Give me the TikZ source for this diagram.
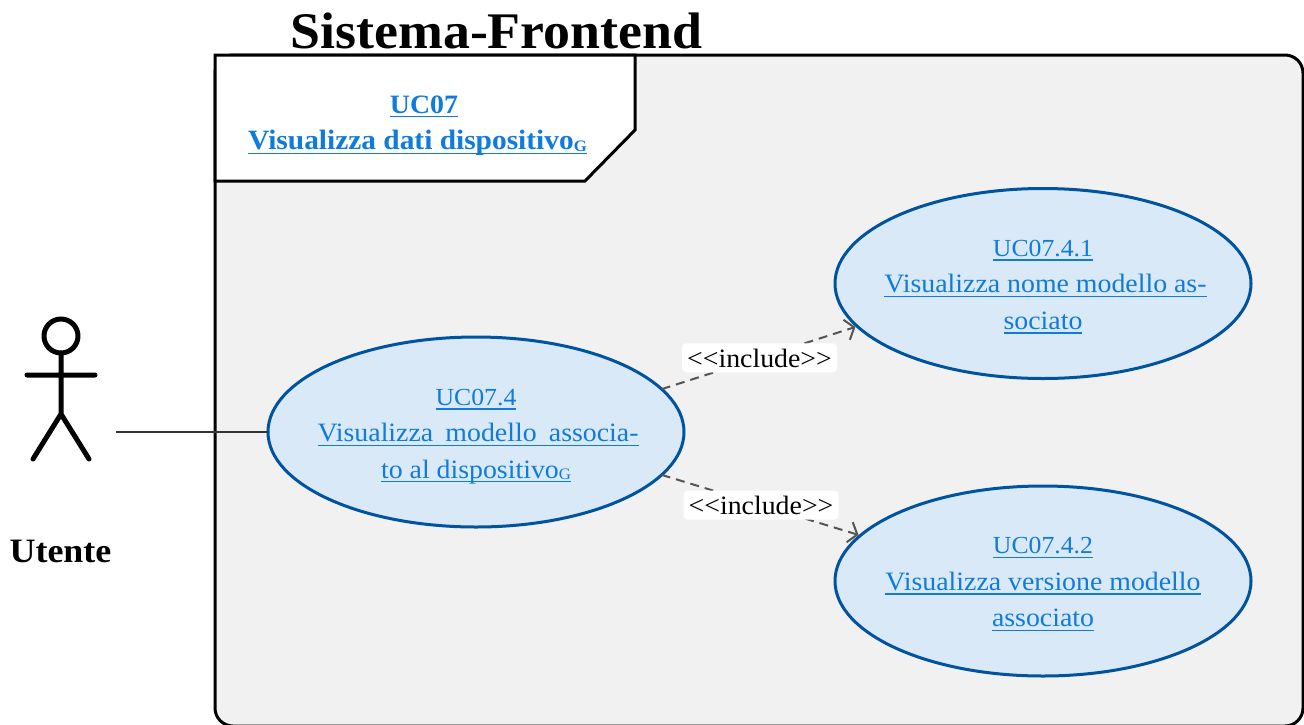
\documentclass[tikz,border=0pt]{standalone}
\usepackage{fontspec}
\setmainfont[FakeStretch=1.05]{Liberation Serif}
\usetikzlibrary{shapes.geometric,arrows.meta}
\definecolor{linkblue}{HTML}{0F7BDD}
\definecolor{ucblue}{HTML}{00539F}
\definecolor{ucfill}{HTML}{D9E9F8}
\definecolor{sysfill}{HTML}{F1F1F1}
\definecolor{dep}{HTML}{555555}
\newcommand\ulk[1]{\setbox0=\hbox{#1}\leavevmode\copy0\kern-\wd0\vrule width\wd0 height -3pt depth 4.3pt\relax}
\newcommand\gsub{\raisebox{-1.8pt}{\fontsize{16}{16}\selectfont G}}
\newcommand\hd{\fontsize{24.5}{36.4}\selectfont}
\newcommand\topst{\rule{0pt}{25pt}}
\newcommand\topsta{\rule{0pt}{23pt}}
\tikzset{
  usecase/.style={ellipse,draw=ucblue,fill=ucfill,line width=3pt,minimum width=416pt,minimum height=190pt,outer sep=0pt,
    inner xsep=-60pt,inner ysep=-20pt,align=center,text=linkblue,font=\fontsize{26.5}{36.4}\selectfont},
  includeedge/.style={draw=dep,line width=2pt,dashed,dash pattern=on 9pt off 6pt,shorten >=2pt,-{Straight Barb[length=8pt,width=21pt]}},
  includelabel/.style={fill=white,rounded corners=4pt,minimum width=155pt,minimum height=29pt,inner sep=0pt,font=\fontsize{26.5}{27}\selectfont,text=black,text height=22pt,text depth=3pt},
  actorline/.style={line width=5pt,line cap=round,line join=round,draw=black},
}
\begin{document}
\begin{tikzpicture}[x=1pt,y=-1pt]
\useasboundingbox (0,0) rectangle (1304,724);
\draw[black,fill=sysfill,line width=3pt,rounded corners=18pt] (215,55) rectangle (1303,726);
\draw[black,fill=white,line width=3pt] (215,55) -- (635,55) -- (635,130) -- (585,181) -- (215,181) -- cycle;
\node[font=\fontsize{28}{36.4}\selectfont\bfseries,text=linkblue,align=center] (note) at (417.5,125.5) {\hspace*{13pt}\ulk{\fontsize{26.5}{36.4}\selectfont UC07}\\\ulk{Visualizza dati dispositivo\gsub}};
\node[font=\fontsize{51.3}{52}\selectfont\bfseries] (title) at (496.5,31) {Sistema-Frontend};
\node[usecase] (main) at (476,432) {\topst\ulk{\hd UC07.4}\\\hspace*{4pt}\ulk{\hbox to 321pt{Visualizza\hfil modello\hfil associa-}}\\\ulk{to al dispositivo\gsub}};
\node[usecase] (top) at (1043,283.5) {\topsta\ulk{\hd UC07.4.1}\\\hspace*{5pt}\ulk{Visualizza nome modello as-}\\\ulk{sociato}};
\node[usecase] (bot) at (1043,581) {\topsta\ulk{\hd UC07.4.2}\\\ulk{Visualizza versione modello}\\\ulk{associato}};
\draw[includeedge] (main.13.2) -- node[includelabel] (l1) {<{}<include>{}>} (top.193.4);
\draw[includeedge] (main.-13.6) -- node[includelabel] (l2) {<{}<include>{}>} (bot.166.3);
\draw[actorline] (61,336) circle (17pt);
\draw[actorline] (61,353) -- (61,414) (27,375) -- (95,375) (33,459) -- (61,414) -- (89,459);
\node[font=\fontsize{34.2}{35}\selectfont\bfseries] (actorname) at (60.5,551.3) {Utente};
\coordinate (actorend) at (116,432);
\draw[line width=1.3pt,draw=black!80] (actorend) -- (main.west);
\end{tikzpicture}
\end{document}
